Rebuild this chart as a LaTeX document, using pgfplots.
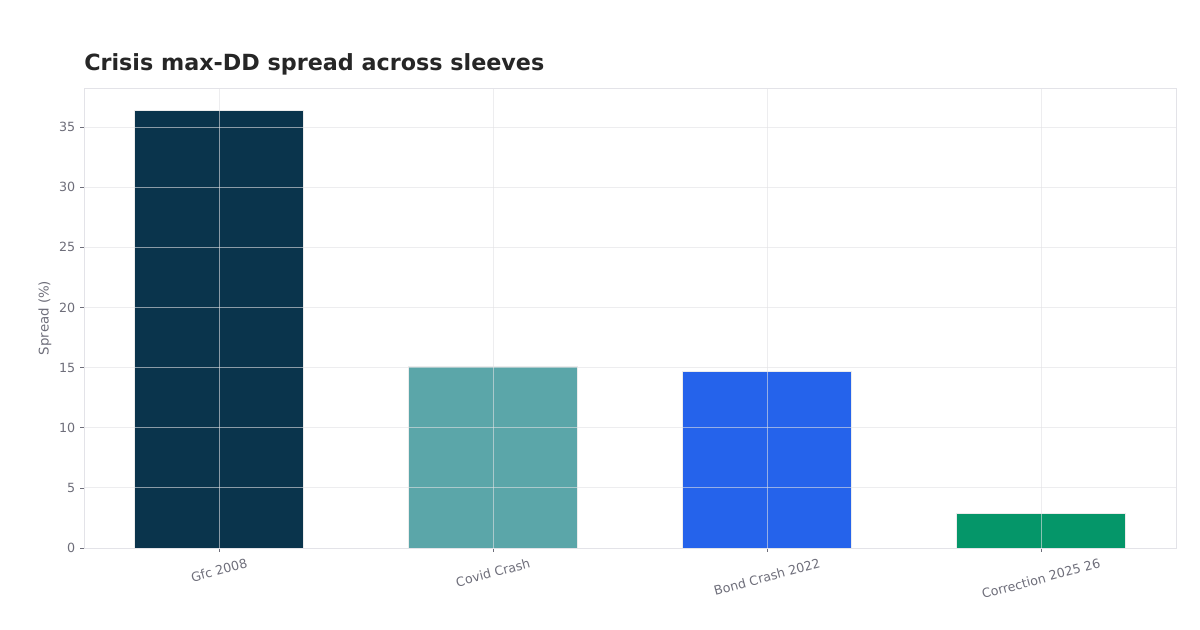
\documentclass[border=0pt]{standalone}
\usepackage{fontspec}
\setmainfont{DejaVu Sans}
\usepackage{graphicx}
\usepackage{pgfplots}
\pgfplotsset{compat=1.18}
\definecolor{cGfc}{HTML}{0A344C}
\definecolor{cCovid}{HTML}{5BA6A9}
\definecolor{cBond}{HTML}{2563EB}
\definecolor{cCorr}{HTML}{059669}
\definecolor{frame}{HTML}{E3E3E8}
\definecolor{gridc}{HTML}{E1E1E4}
\definecolor{tickc}{HTML}{6E6E7A}
\definecolor{titlec}{HTML}{262626}
\begin{document}
\begin{tikzpicture}
\useasboundingbox (0pt,0pt) rectangle (900pt,472.5pt);
\node[anchor=base west, font=\bfseries\fontsize{16.7}{18}\selectfont, text=titlec, inner sep=0pt] at (63pt,419.5pt) {Crisis max-DD spread across sleeves};
\begin{axis}[
  at={(63pt,61.5pt)}, anchor=south west,
  scale only axis, width=819pt, height=345pt,
  xmin=-0.493, xmax=3.493, ymin=0, ymax=38.24,
  ybar, bar width=0.617, bar shift=0pt,
  xtick={0,1,2,3},
  xticklabels={{\rotatebox{15}{Gfc 2008}},{\rotatebox{15}{Covid Crash}},{\rotatebox{15}{Bond Crash 2022}},{\rotatebox{15}{Correction 2025 26}}},
  ytick={0,5,...,35},
  xmajorgrids, ymajorgrids,
  major grid style={draw=gridc, line width=0.6pt, opacity=0.6},
  axis on top,
  axis line style={draw=frame, line width=0.6pt},
  tick style={draw=tickc, line width=0.5pt},
  tick align=outside, major tick length=3pt,
  xtick pos=bottom, ytick pos=left,
  ticklabel style={font=\fontsize{9.5}{11}\selectfont, text=tickc},
  xticklabel style={anchor=north, yshift=-1pt},
  /pgf/number format/assume math mode=true,
  ylabel={Spread (\%)},
  every axis y label/.style={at={(axis description cs:-0.0357,0.5)}, rotate=90, anchor=center, font=\fontsize{10}{12}\selectfont, text=tickc},
]
\addplot[fill=cGfc, draw=white!85!gray, line width=0.6pt] coordinates {(0,36.4)};
\addplot[fill=cCovid, draw=white!85!gray, line width=0.6pt] coordinates {(1,15.13)};
\addplot[fill=cBond, draw=white!85!gray, line width=0.6pt] coordinates {(2,14.71)};
\addplot[fill=cCorr, draw=white!85!gray, line width=0.6pt] coordinates {(3,2.91)};
\end{axis}
\end{tikzpicture}
\end{document}
